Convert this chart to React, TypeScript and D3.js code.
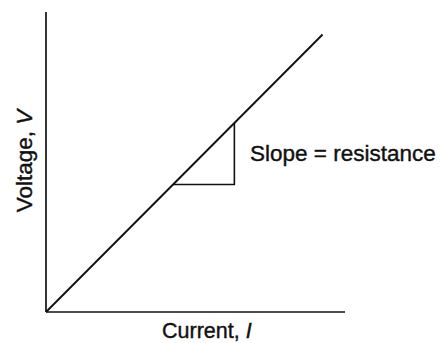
import React from "react";
import * as d3 from "d3";

const currentVals = [0, 9.25];
const voltageVals = [0, 9.25];
const triangleX = [4.25, 6.3, 6.3];
const triangleY = [4.25, 4.25, 6.3];
const xLabel = "Current, ";
const xLabelItalic = "I";
const yLabel = "Voltage, ";
const yLabelItalic = "V";
const slopeLabel = "Slope = resistance";

const W = 444;
const H = 343;

export default function App() {
  const x = d3.scaleLinear().domain([0, 10]).range([46, 345]);
  const y = d3.scaleLinear().domain([0, 10]).range([312, 12]);
  const line = d3
    .line<[number, number]>()
    .x((d) => x(d[0]))
    .y((d) => y(d[1]));
  const mainPts = currentVals.map((c, i) => [c, voltageVals[i]] as [number, number]);
  const triPts = triangleX.map((c, i) => [c, triangleY[i]] as [number, number]);
  const font = "'Liberation Sans', Arial, Helvetica, sans-serif";
  const ink = "#111";
  const textStroke = { stroke: ink, strokeWidth: 0.4 };
  return (
    <svg
      width={W}
      height={H}
      style={{ position: "absolute", left: 0, top: 0, background: "#fff" }}
    >
      <rect width={W} height={H} fill="#fff" />
      {/* axes */}
      <line x1={x(0)} y1={y(0)} x2={x(0)} y2={y(10)} stroke={ink} strokeWidth={1.7} />
      <line x1={x(0)} y1={y(0)} x2={x(10)} y2={y(0)} stroke={ink} strokeWidth={1.7} />
      {/* main line */}
      <path d={line(mainPts) || ""} fill="none" stroke={ink} strokeWidth={1.9} />
      {/* slope triangle */}
      <path d={line(triPts) || ""} fill="none" stroke={ink} strokeWidth={1.6} />
      {/* slope label */}
      <text x={250} y={161} fontFamily={font} fontSize={22.5} fill={ink} {...textStroke}>
        {slopeLabel}
      </text>
      {/* x label */}
      <text x={162} y={338} fontFamily={font} fontSize={21.5} fill={ink} {...textStroke}>
        {xLabel}
        <tspan fontStyle="italic">{xLabelItalic}</tspan>
      </text>
      {/* y label */}
      <text
        transform={`translate(32, 161) rotate(-90)`}
        textAnchor="middle"
        fontFamily={font}
        fontSize={22.5}
        fill={ink}
        {...textStroke}
      >
        {yLabel}
        <tspan fontStyle="italic">{yLabelItalic}</tspan>
      </text>
    </svg>
  );
}
